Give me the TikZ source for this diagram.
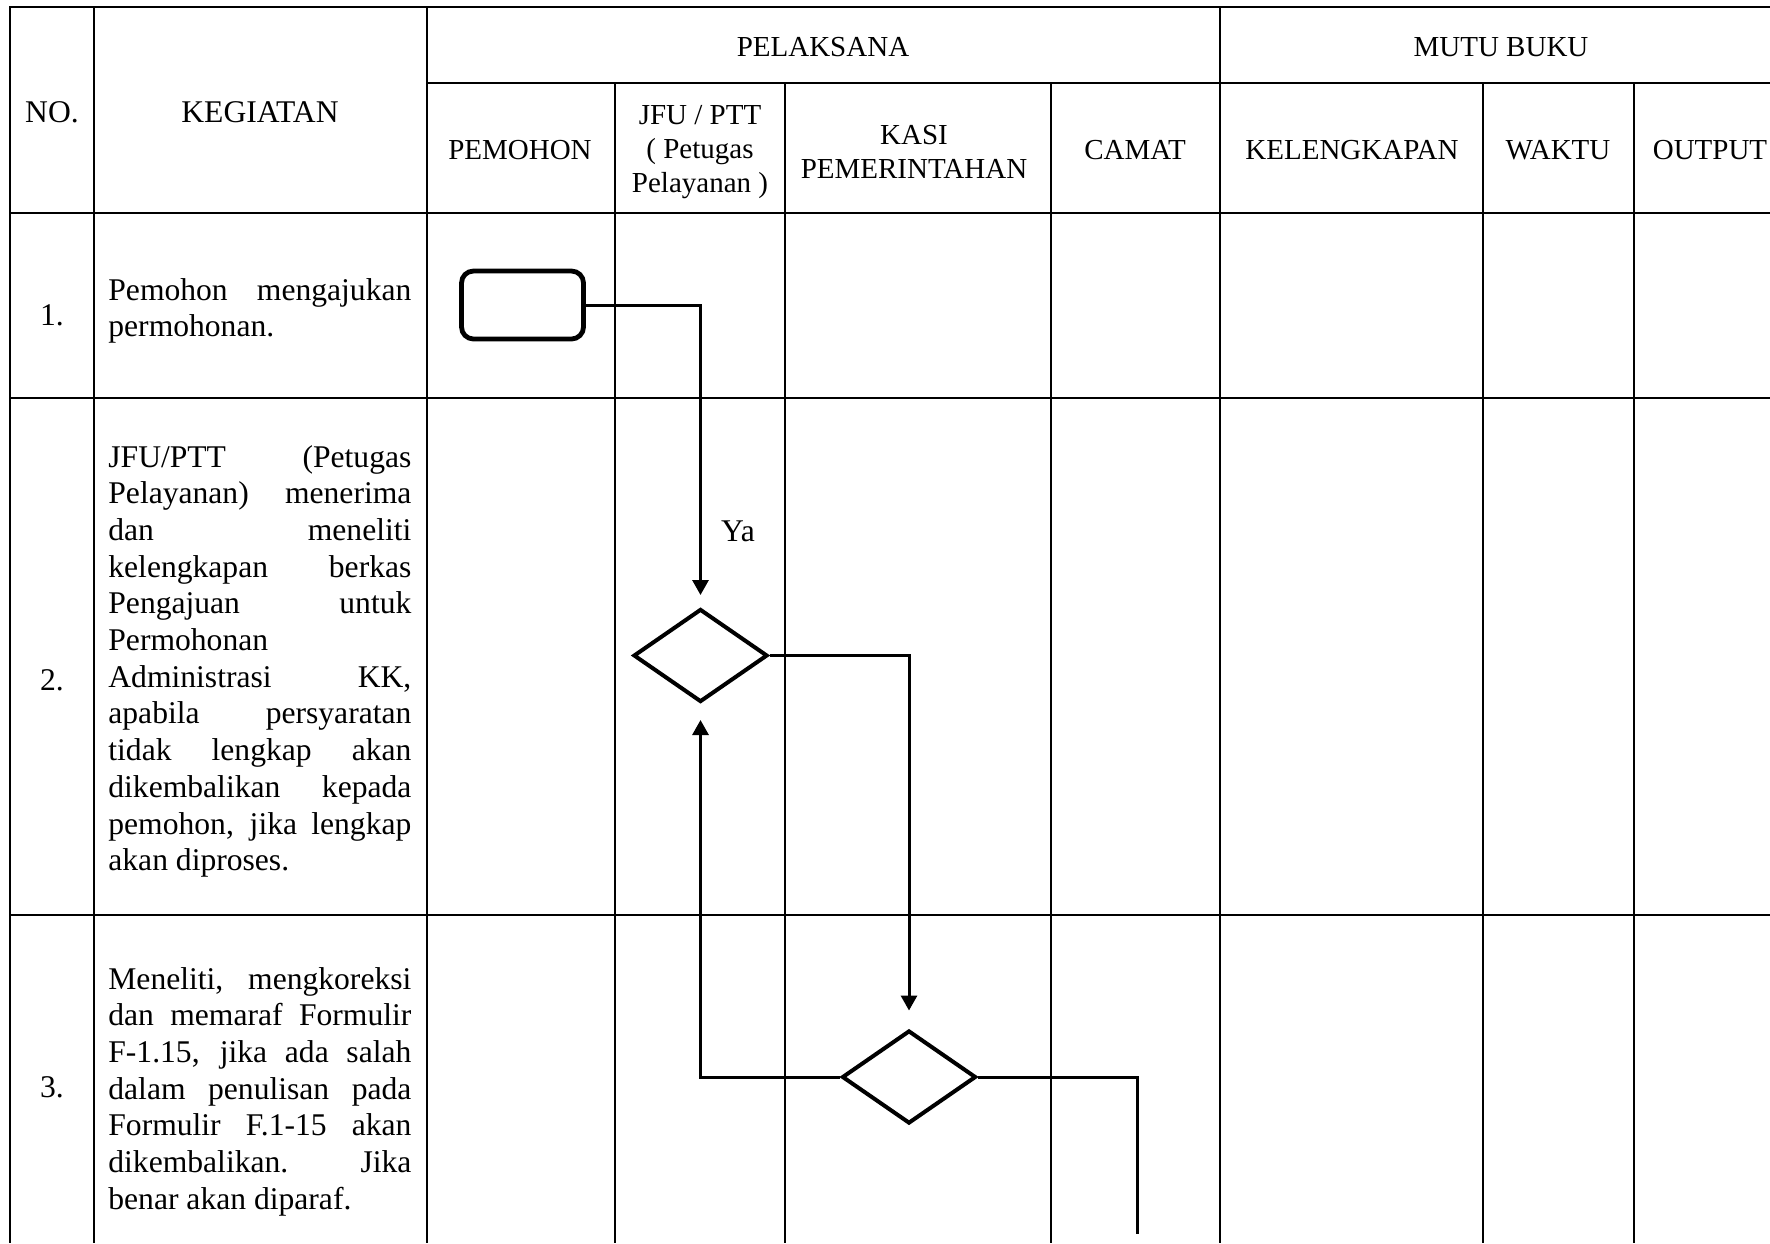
\documentclass[tikz,border=0pt]{standalone}
\usepackage{fontspec}
\setmainfont{Liberation Serif}
\usetikzlibrary{shapes.geometric,arrows.meta}
\newcommand\jline[1]{\noindent\hbox to 151.5pt{\spaceskip=0.25em plus 1fil\relax #1}\par}
\newcommand\lline[1]{\noindent\hbox{\spaceskip=0.25em\relax #1}\par}
\begin{document}
\begin{tikzpicture}[x=0.5pt,y=-0.5pt,
  tline/.style={line width=0.9pt},
  tthick/.style={line width=1.3pt},
  hdr/.style={font=\fontsize{14.5pt}{17pt}\selectfont, align=center, inner sep=0pt},
  body/.style={font=\fontsize{15.8pt}{18.35pt}\selectfont, inner sep=0pt},
  para/.style={body, text width=151.5pt, align=justify, anchor=base west},
  flow/.style={line width=1.5pt},
  arr/.style={flow, -{Triangle[length=7.5pt,width=8pt]}},
  startbox/.style={draw, rounded corners=6pt, line width=2.4pt, minimum width=61pt, minimum height=34pt, inner sep=0pt},
  decision/.style={draw, diamond, line width=2pt, minimum width=67pt, minimum height=46.5pt, inner sep=0pt}
]
\useasboundingbox (0,0) rectangle (1770,1243);
\fill[white] (0,0) rectangle (1770,1243);
% table grid
\draw[tthick] (1770,7) -- (10,7) -- (10,1243);
\draw[tthick] (10,213) -- (1770,213);
\draw[tthick] (10,398) -- (1770,398);
\draw[tthick] (10,915) -- (1770,915);
\draw[tthick] (427,83) -- (1770,83);
\draw[tthick] (94,7) -- (94,1243);
\draw[tthick] (427,7) -- (427,1243);
\draw[tthick] (1220,7) -- (1220,1243);
\foreach \x in {615,785,1051,1483,1634} \draw[tline] (\x,83) -- (\x,1243);
% headers
\node[body] (hno) at (52,112) {NO.};
\node[body] (hkeg) at (260,112) {KEGIATAN};
\node[hdr] (hpel) at (823,47) {PELAKSANA};
\node[hdr] (hmutu) at (1501,47) {MUTU BUKU};
\node[hdr] (hpem) at (520,150) {PEMOHON};
\node[hdr] (hjfu) at (700,152) {JFU / PTT\\( Petugas\\Pelayanan )};
\node[hdr] (hkasi) at (914,152) {KASI\\PEMERINTAHAN};
\node[hdr] (hcamat) at (1135,150) {CAMAT};
\node[hdr] (hkel) at (1352,150) {KELENGKAPAN};
\node[hdr] (hwaktu) at (1558,150) {WAKTU};
\node[hdr] (hout) at (1710,150) {OUTPUT};
% numbers
\node[body, anchor=base] (n1) at (52,325) {1.};
\node[body, anchor=base] (n2) at (52,690) {2.};
\node[body, anchor=base] (n3) at (52,1097) {3.};
% activities
\node[para] (k1) at (108,300) {\jline{Pemohon mengajukan}\lline{permohonan.}};
\node[para] (k2) at (108,467) {\jline{JFU/PTT (Petugas}\jline{Pelayanan) menerima}\jline{dan meneliti}\jline{kelengkapan berkas}\jline{Pengajuan untuk}\lline{Permohonan}\jline{Administrasi KK,}\jline{apabila persyaratan}\jline{tidak lengkap akan}\jline{dikembalikan kepada}\jline{pemohon, jika lengkap}\lline{akan diproses.}};
\node[para] (k3) at (108,989) {\jline{Meneliti, mengkoreksi}\jline{dan memaraf Formulir}\jline{F-1.15, jika ada salah}\jline{dalam penulisan pada}\jline{Formulir F.1-15 akan}\jline{dikembalikan. Jika}\lline{benar akan diparaf.}};
% flow
\node[startbox] (start) at (522.5,305) {};
\node[decision] (d1) at (700.5,655.5) {};
\node[decision] (d2) at (909,1077) {};
\coordinate (end) at (1137,1234);
\draw[arr, shorten >=6pt] (start.east) -| (d1.north);
\draw[arr, shorten >=9pt] (d1.east) -| (d2.north);
\draw[arr, shorten >=8pt] (d2.west) -| (d1.south);
\draw[flow] (d2.east) -| (end);
\node[body] (ya) at (738,531) {Ya};
\end{tikzpicture}
\end{document}
